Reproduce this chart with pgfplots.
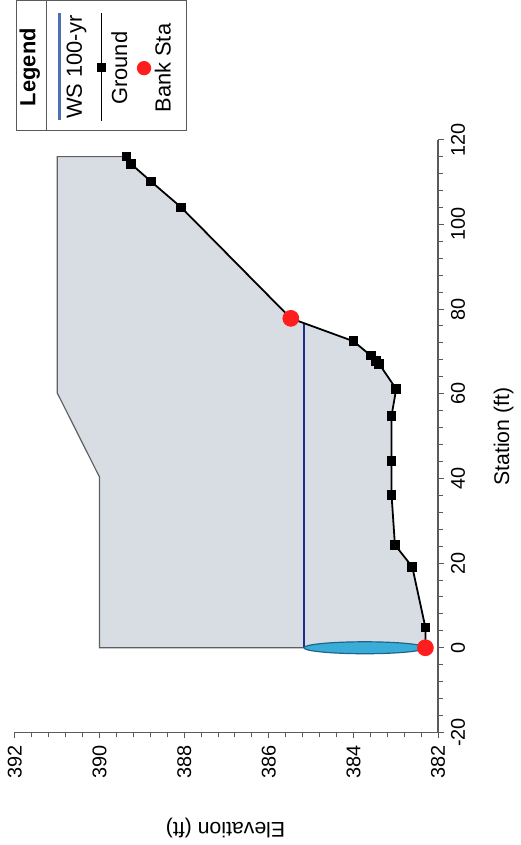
\documentclass[border=0pt]{standalone}
\usepackage{pgfplots}
\pgfplotsset{compat=1.18}
\usepackage{fontspec}
\setmainfont{Liberation Sans}
\definecolor{polyfill}{RGB}{216,221,228}
\definecolor{polyline}{RGB}{95,95,95}
\definecolor{axgray}{RGB}{90,90,90}
\definecolor{wsblue}{RGB}{30,45,140}
\definecolor{ellfill}{RGB}{58,172,216}
\definecolor{elldraw}{RGB}{30,100,140}
\definecolor{bankred}{RGB}{255,30,30}
\definecolor{legblue}{RGB}{80,110,180}

\begin{document}
\begin{tikzpicture}
\begin{scope}[x=0.5pt,y=-0.5pt,shift={(-7.5pt,365.85pt)}]
\useasboundingbox (0,0) rectangle (524,845);
\end{scope}
\begin{axis}[
 at={(0,0)}, anchor=south west,
 scale only axis, width=213pt, height=298.35pt,
 xmin=382, xmax=392, ymin=-20, ymax=120,
 x dir=reverse,
 axis x line*=bottom, axis y line*=right,
 xtick={382,384,386,388,390,392}, ytick={-20,0,20,40,60,80,100,120},
 minor x tick num=4, minor y tick num=4,
 tick align=outside,
 major tick length=3pt, minor tick length=2.5pt,
 axis line style={axgray, line width=0.6pt},
 every tick/.style={axgray, line width=0.5pt},
 /pgf/number format/assume math mode=true,
 ticklabel style={font=\fontsize{10}{12}\selectfont},
 xticklabel style={rotate=90, anchor=east},
 yticklabel style={rotate=90, anchor=north},
 clip=false,
]
% cross-section area (elevation, station)
\addplot[fill=polyfill, draw=none] coordinates {
 (382.30,0) (382.30,4.8) (382.61,19.1) (383.02,24.3) (383.10,36.1)
 (383.10,44.1) (383.10,54.8) (382.99,61.1) (383.39,67.0) (383.47,67.8)
 (383.59,69.0) (384.00,72.4) (385.48,77.8) (388.07,104.0) (388.78,110.1)
 (389.26,114.3) (389.36,116.0) (391,116.0) (391,60.2) (390,40.3) (390,0) (382.30,0)};
\addplot[polyline, line width=0.6pt] coordinates {
 (389.36,116.0) (391,116.0) (391,60.2) (390,40.3) (390,0) (382.30,0)};
% water surface
\addplot[wsblue, line width=1pt] coordinates {(385.17,0) (385.17,76.8)};
\draw[fill=ellfill, draw=elldraw, line width=0.6pt] (axis cs:383.735,0) ellipse [x radius=30.6pt, y radius=3pt];
% ground
\addplot[black, line width=0.9pt, mark=square*, mark size=2pt] coordinates {
 (382.30,0) (382.30,4.8) (382.61,19.1) (383.02,24.3) (383.10,36.1)
 (383.10,44.1) (383.10,54.8) (382.99,61.1) (383.39,67.0) (383.47,67.8)
 (383.59,69.0) (384.00,72.4) (385.48,77.8) (388.07,104.0) (388.78,110.1)
 (389.26,114.3) (389.36,116.0)};
% bank stations
\addplot[only marks, mark=*, mark size=4pt, color=bankred] coordinates {(382.30,0) (385.48,77.8)};
\end{axis}
\begin{scope}[x=0.5pt,y=-0.5pt,shift={(-7.5pt,365.85pt)}]
\node[rotate=180, font=\fontsize{10.7}{13}\selectfont] at (227,828) {Elevation (ft)};
\node[rotate=90, font=\fontsize{10.7}{13}\selectfont] at (507,434) {Station (ft)};
% legend
\draw[axgray, line width=0.6pt] (17,-5) rectangle (188,126);
\draw[axgray, line width=0.6pt] (47,-5) -- (47,126);
\node[rotate=90, font=\bfseries\fontsize{11}{13}\selectfont] at (30,62) {Legend};
\draw[legblue, line width=1.2pt] (60,8) -- (60,115);
\node[rotate=90, font=\fontsize{11}{13}\selectfont] at (77,62) {WS 100-yr};
\draw[black, line width=0.8pt] (102,8) -- (102,116);
\fill[black] (102,62) ++(-2.2pt,-2.2pt) rectangle ++(4.4pt,4.4pt);
\node[rotate=90, font=\fontsize{11}{13}\selectfont] at (120,63) {Ground};
\fill[bankred] (145,63) circle[radius=3.6pt];
\node[rotate=90, font=\fontsize{11}{13}\selectfont] at (164,63) {Bank Sta};
\end{scope}
\end{tikzpicture}
\end{document}
